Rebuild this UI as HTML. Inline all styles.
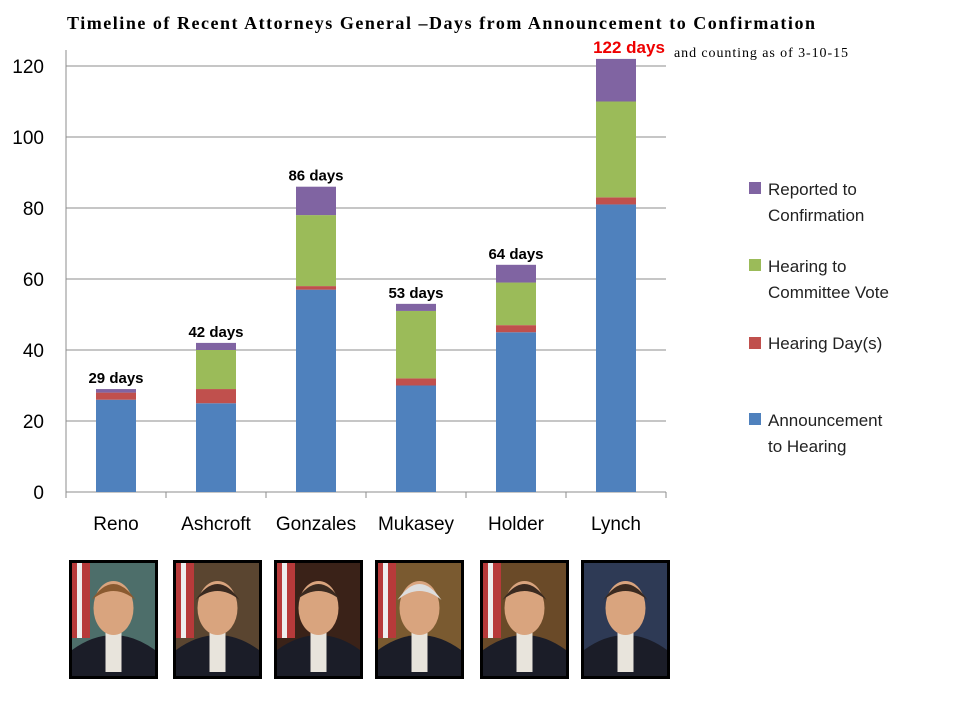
<!DOCTYPE html>
<html><head><meta charset="utf-8"><style>
body{margin:0;background:#fff;}
svg{display:block;font-family:"Liberation Sans",sans-serif;}
</style></head><body>
<svg width="960" height="720" viewBox="0 0 960 720">
<text x="67" y="29" textLength="748" lengthAdjust="spacing" font-family="Liberation Serif" font-weight="bold" font-size="18">Timeline  of Recent Attorneys  General  –Days from Announcement  to Confirmation</text>
<g id="grid"></g><g id="bars"></g><g id="labels"></g><g id="photos"></g>
<g font-size="17" fill="#222">
<rect x="749" y="182" width="12" height="12" fill="#8064a2"/>
<text x="768" y="195">Reported to</text><text x="768" y="221">Confirmation</text>
<rect x="749" y="259" width="12" height="12" fill="#9bbb59"/>
<text x="768" y="272">Hearing to</text><text x="768" y="298">Committee Vote</text>
<rect x="749" y="337" width="12" height="12" fill="#c0504d"/>
<text x="768" y="349">Hearing Day(s)</text>
<rect x="749" y="413" width="12" height="12" fill="#4f81bd"/>
<text x="768" y="426">Announcement</text><text x="768" y="452">to Hearing</text>
</g>
</svg>
<script>
const categories=["Reno","Ashcroft","Gonzales","Mukasey","Holder","Lynch"];
const announcementToHearing=[26,25,57,30,45,81];
const hearingDays=[2,4,1,2,2,2];
const hearingToVote=[0,11,20,19,12,27];
const reportedToConfirmation=[1,2,8,2,5,12];
const totalLabels=["29 days","42 days","86 days","53 days","64 days","122 days"];
const yTicks=[0,20,40,60,80,100,120];
const photoBg=["#4d6e6a","#5a4530","#3a2218","#7a5a30","#6a4a28","#2e3a55"];
const NS="http://www.w3.org/2000/svg";
const x0=66,x1=666,yBase=492,yTop=66,yMax=120;
const ys=v=>yBase-(v/yMax)*(yBase-yTop);
const band=(x1-x0)/categories.length;
const xc=i=>x0+band*(i+0.5);
function mk(t,a,p){const e=document.createElementNS(NS,t);for(const k in a)e.setAttribute(k,a[k]);p.appendChild(e);return e;}
const grid=document.getElementById('grid');
yTicks.forEach(t=>{
 if(t>0){const l=mk('line',{x1:x0,x2:x1,y1:ys(t),y2:ys(t),stroke:'#8c8c8c','stroke-width':1},grid);
 
 }
 const tx=mk('text',{x:44,y:ys(t)+7,'text-anchor':'end','font-size':19,fill:'#000'},grid);tx.textContent=t;
 
 
});
mk('line',{x1:x0,x2:x0,y1:yTop-16,y2:yBase,stroke:'#8c8c8c'},grid);
mk('line',{x1:x0,x2:x1,y1:yBase,y2:yBase,stroke:'#8c8c8c'},grid);
for(let i=0;i<=categories.length;i++)mk('line',{x1:x0+band*i,x2:x0+band*i,y1:yBase,y2:yBase+6,stroke:'#8c8c8c'},grid);
const bars=document.getElementById('bars');
const series=[[announcementToHearing,'#4f81bd','announcement'],[hearingDays,'#c0504d','hearing-days'],[hearingToVote,'#9bbb59','hearing-vote'],[reportedToConfirmation,'#8064a2','reported']];
const labels=document.getElementById('labels');
categories.forEach((c,i)=>{
 let cum=0;
 series.forEach(([arr,col,nm])=>{
  const v=arr[i];if(v<=0)return;
  const r=mk('rect',{x:xc(i)-20,width:40,y:ys(cum+v),height:ys(cum)-ys(cum+v),fill:col},bars);
  
  
  cum+=v;
 });
 const cl=mk('text',{x:xc(i),y:530,'text-anchor':'middle','font-size':19},labels);cl.textContent=c;
 
 
 const last=i===categories.length-1;
 const tl=mk('text',{x:last?xc(i)+13:xc(i),y:ys(cum)-6,'text-anchor':'middle','font-size':last?17:15,'font-weight':'bold',fill:last?'#e00':'#000'},labels);tl.textContent=totalLabels[i];
 
 
});
const note=mk('text',{x:674,y:57,'font-size':14,'font-family':'Liberation Serif',textLength:174,lengthAdjust:'spacing'},labels);note.textContent='and counting  as of 3-10-15';


const photos=document.getElementById('photos');
const px=[69,173,274,375,480,581];
categories.forEach((c,i)=>{
 const g=mk('g',{},photos);
 
 
 const x=px[i],y=560,w=89,h=119;
 mk('rect',{x:x,y:y,width:w,height:h,fill:'#000'},g);
 mk('rect',{x:x+3,y:y+3,width:w-6,height:h-6,fill:photoBg[i]},g);
 if(i<5){mk('rect',{x:x+3,y:y+3,width:18,height:75,fill:'#b73a3a'},g);mk('rect',{x:x+8,y:y+3,width:5,height:75,fill:'#eee'},g);}
 mk('path',{d:`M${x+3} ${y+h-3} L${x+3} ${y+90} Q${x+w/2} ${y+60} ${x+w-3} ${y+90} L${x+w-3} ${y+h-3} Z`,fill:'#1b1d28'},g);
 mk('rect',{x:x+w/2-8,y:y+72,width:16,height:40,fill:'#e8e4dc'},g);
 mk('ellipse',{cx:x+w/2,cy:y+48,rx:20,ry:27,fill:'#d9a47e'},g);
 mk('path',{d:`M${x+w/2-22} ${y+40} Q${x+w/2} ${y+8} ${x+w/2+22} ${y+40} Q${x+w/2} ${y+22} ${x+w/2-22} ${y+40}Z`,fill:i==3?'#ddd':(i==0?'#8a5a30':'#3a2a20')},g);
});
</script>
</body></html>
